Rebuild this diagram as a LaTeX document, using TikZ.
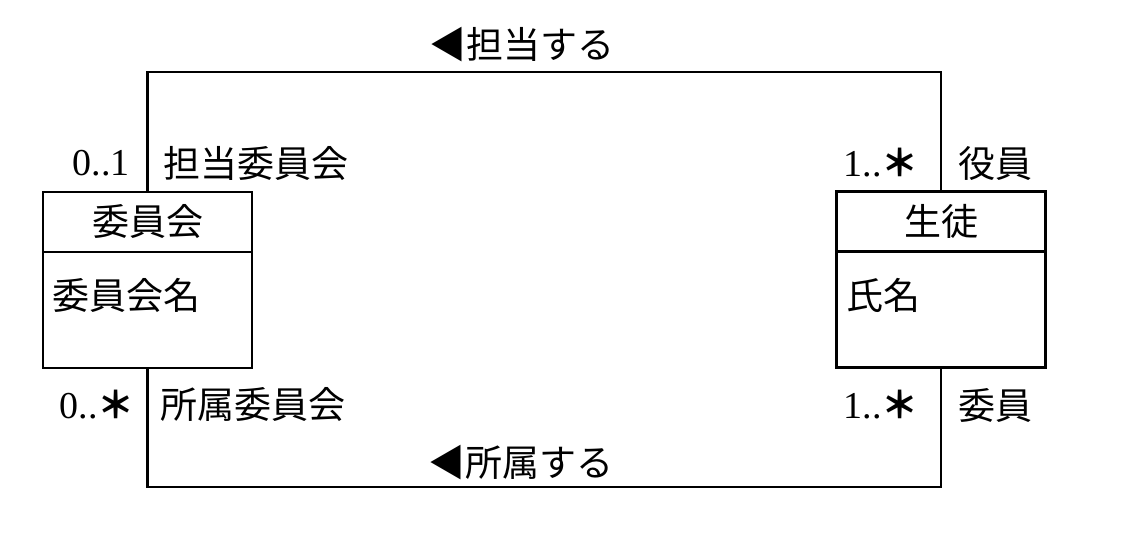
\documentclass[tikz,border=0pt]{standalone}
\usepackage{fontspec}
\newfontfamily\jp{Noto Sans CJK JP}
\newfontfamily\num{Liberation Serif}
\newcommand{\mstar}{{\jp\bfseries\fontsize{37}{40}\selectfont ＊}}
\begin{document}
\begin{tikzpicture}[x=1pt,y=-1pt,
  every node/.style={inner sep=0pt},
  jtext/.style={font=\jp\fontsize{37}{40}\selectfont},
  ntext/.style={font=\num\fontsize{38}{40}\selectfont},
  classhead/.style={draw,line width=2.4pt,outer sep=0pt,minimum width=209pt,minimum height=60pt,jtext},
  classbody/.style={draw,line width=2.4pt,outer sep=0pt,minimum width=209pt,minimum height=116pt},
  assoc/.style={line width=2.2pt}]
\useasboundingbox (0,0) rectangle (1140,550);
% classes
\node[classhead] (c1h) at (147.5,222) {委員会};
\node[classbody,anchor=north] (c1b) at (c1h.south) {};
\node[jtext,anchor=west] (a1) at (52,295) {委員会名};
\node[classhead] (c2h) at (941,221.5) {生徒};
\node[classbody,anchor=north] (c2b) at (c2h.south) {};
\node[jtext,anchor=west] (a2) at (846,295) {氏名};
% connector coordinates
\coordinate (top) at (540,72);
\coordinate (bot) at (540,487);
\draw[assoc] (c1h.north) -- (c1h.north |- top) -| (c2h.north);
\draw[assoc] (c1b.south) -- (c1b.south |- bot) -| (c2b.south);
% association names
\node[jtext] (n1) at (522,45) {◀担当する};
\node[jtext] (n2) at (521,463) {◀所属する};
% role names and multiplicities
\node[ntext,anchor=east] (m1) at (130,163) {0..1};
\node[jtext,anchor=west] (r1) at (163,163) {担当委員会};
\node[ntext,anchor=east] (m2) at (919,163) {1..\mstar};
\node[jtext,anchor=west] (r2) at (958,163) {役員};
\node[ntext,anchor=east] (m3) at (135,405) {0..\mstar};
\node[jtext,anchor=west] (r3) at (160,405) {所属委員会};
\node[ntext,anchor=east] (m4) at (919,405) {1..\mstar};
\node[jtext,anchor=west] (r4) at (958,405) {委員};
\end{tikzpicture}
\end{document}
